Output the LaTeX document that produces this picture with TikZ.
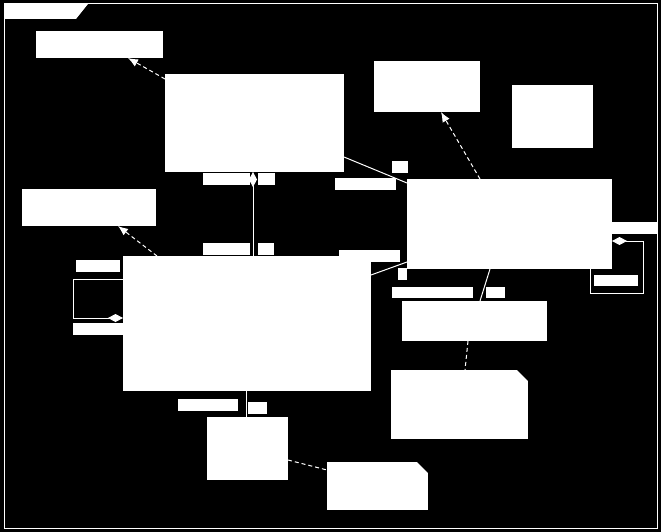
\documentclass[tikz,border=0pt]{standalone}
\usetikzlibrary{arrows.meta}

\begin{document}
\begin{tikzpicture}[x=1pt, y=-1pt, line width=1pt,
	blk/.style={fill=white, inner sep=0pt, outer sep=0pt, anchor=north west},
	link/.style={draw=white},
	dep/.style={draw=white, dash pattern=on 4pt off 3pt},
	agg/.style={draw=white, {Diamond[length=15pt, width=8pt, fill=white]}-}]
	\useasboundingbox (0,0) rectangle (661,532);
	\fill[black] (0,0) rectangle (661,532);

	% Frame
	\draw[white] (4,4) rectangle (657,528);
	\fill[white] (4,4) -- (88,4) -- (76,19) -- (4,19) -- cycle;

	% Nodes
	\node[blk, minimum width=127pt, minimum height=27pt] (note1) at (36,31) {};
	\node[blk, minimum width=179pt, minimum height=98pt] (clsA) at (165,74) {};
	\node[blk, minimum width=106pt, minimum height=51pt] (noteT) at (374,61) {};
	\node[blk, minimum width=81pt, minimum height=63pt] (boxR) at (512,85) {};
	\node[blk, minimum width=134pt, minimum height=37pt] (noteL) at (22,189) {};
	\node[blk, minimum width=205pt, minimum height=90pt] (clsC) at (407,179) {};
	\node[blk, minimum width=248pt, minimum height=135pt] (clsB) at (123,256) {};
	\node[blk, minimum width=145pt, minimum height=40pt] (clsD) at (402,301) {};
	\node[blk, minimum width=137pt, minimum height=69pt] (noteE) at (391,370) {};
	\node[blk, minimum width=81pt, minimum height=63pt] (boxF) at (207,417) {};
	\node[blk, minimum width=101pt, minimum height=48pt] (noteG) at (327,462) {};

	% folded corners
	\fill[black] (noteE.north east) -- ++(-11,0) -- ++(11,11) -- cycle;
	\fill[black] (noteG.north east) -- ++(-11,0) -- ++(11,11) -- cycle;

	% Labels
	\node[blk, minimum width=47pt, minimum height=12pt] (lAB1) at (203,173) {};
	\node[blk, minimum width=17pt, minimum height=12pt] (lAB2) at (258,173) {};
	\node[blk, minimum width=47pt, minimum height=12pt] (lAB3) at (203,243) {};
	\node[blk, minimum width=16pt, minimum height=12pt] (lAB4) at (258,243) {};
	\node[blk, minimum width=16pt, minimum height=12pt] (lAC1) at (392,161) {};
	\node[blk, minimum width=61pt, minimum height=12pt] (lAC2) at (335,178) {};
	\node[blk, minimum width=61pt, minimum height=12pt] (lBC0) at (339,250) {};
	\node[blk, minimum width=9pt, minimum height=12pt] (lBC1) at (398,268) {};
	\node[blk, minimum width=81pt, minimum height=11pt] (lBC2) at (392,287) {};
	\node[blk, minimum width=19pt, minimum height=11pt] (lCD) at (486,287) {};
	\node[blk, minimum width=46pt, minimum height=12pt] (lCC1) at (612,222) {};
	\node[blk, minimum width=44pt, minimum height=11pt] (lCC2) at (594,275) {};
	\node[blk, minimum width=44pt, minimum height=12pt] (lBB1) at (76,260) {};
	\node[blk, minimum width=50pt, minimum height=12pt] (lBB2) at (73,323) {};
	\node[blk, minimum width=60pt, minimum height=12pt] (lBF1) at (178,399) {};
	\node[blk, minimum width=19pt, minimum height=12pt] (lBF2) at (248,402) {};

	% Arrows
	\draw[agg] ([xshift=88pt]clsA.south west) -- ([xshift=130pt]clsB.north west);
	\draw[link] ([yshift=-83pt]clsA.north east) -- ([yshift=-4pt]clsC.north west);
	\draw[link] ([yshift=-19pt]clsB.north east) -- ([yshift=7pt]clsC.south west);
	\draw[link] ([xshift=83pt]clsC.south west) -- ([xshift=78pt]clsD.north west);
	\draw[link] ([xshift=123pt]clsB.south west) -- ([xshift=39pt]boxF.north west);
	\draw[agg] ([yshift=-62pt]clsB.north west) -- ++(-50,0) |- ([yshift=-23pt]clsB.north west);
	\draw[agg] ([yshift=-62pt]clsC.north east) -| ++(31,52) -| ([xshift=-22pt]clsC.south east);
	\draw[dep, -{Latex[length=10pt, width=8pt]}] ([yshift=-5pt]clsA.north west) -- ([xshift=92pt]note1.south west);
	\draw[dep, -{Latex[length=10pt, width=8pt]}] ([xshift=73pt]clsC.north west) -- ([xshift=67pt]noteT.south west);
	\draw[dep, -{Latex[length=10pt, width=8pt]}] ([xshift=34pt]clsB.north west) -- ([xshift=96pt]noteL.south west);
	\draw[dep] ([xshift=66pt]clsD.south west) -- ([xshift=74pt]noteE.north west);
	\draw[dep] ([yshift=-43pt]boxF.north east) -- ([yshift=-8pt]noteG.north west);
\end{tikzpicture}
\end{document}
